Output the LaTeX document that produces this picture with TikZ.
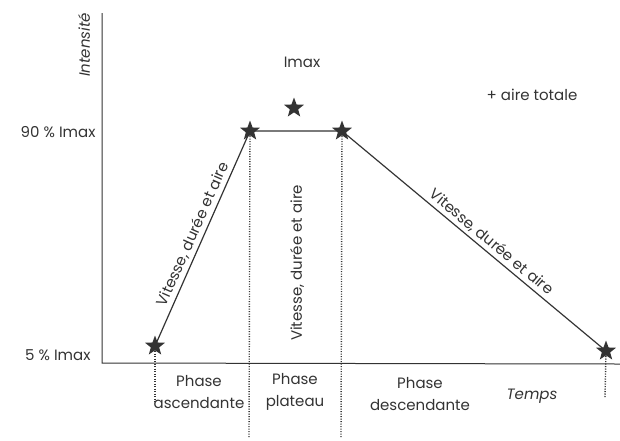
\documentclass[tikz,border=0pt]{standalone}
\usepackage{fontspec}
\setmainfont{Poppins}
\usepackage{tikz}
\usetikzlibrary{shapes.geometric}

\definecolor{trait}{HTML}{333333}

\tikzset{
	etoile/.style={star,star points=5,star point ratio=2.4,fill=trait,draw=none,inner sep=0pt,minimum size=21pt},
	repere/.style={draw=trait,line width=1.4pt,dash pattern=on 1.2pt off 1.3pt},
	texte/.style={text=trait,font=\fontsize{15}{22}\selectfont,align=center}
}

\begin{document}
\begin{tikzpicture}[x=1pt,y=-1pt]
	\useasboundingbox (0,0) rectangle (620,440);
	
	% axes
	\coordinate (haut) at (102,13);
	\coordinate (origine) at (102,363);
	\coordinate (droite) at (620,364);
	\draw[trait,line width=1pt] (haut) -- (origine) -- (droite);
	\node[texte,rotate=90,font=\fontsize{15}{22}\selectfont\itshape] (intensite) at (84,45) {Intensité};
	\node[texte,left] (neuf) at (99,132) {90 \% Imax};
	\node[texte,left] (cinq) at (94,355) {5 \% Imax};
	\node[texte,font=\fontsize{15}{22}\selectfont\itshape] (temps) at (532,396) {Temps};
	
	% points
	\node[etoile] (s1) at (155,346) {};
	\node[etoile] (s2) at (250,131) {};
	\node[etoile] (s3) at (342,131) {};
	\node[etoile] (s4) at (606,351) {};
	\node[etoile] (smax) at (294,108) {};
	\node[texte] (imax) at (302,62) {Imax};
	\node[texte] (aire) at (532,95) {+ aire totale};
	
	\draw[trait,line width=1.2pt] (s1.center) -- (s2.center) -- (s3.center) -- (s4.center);
	\path (s1.center) -- (s2.center) node[texte,midway,sloped,above] (l1) {Vitesse, durée et aire};
	\path (s3.center) -- (s4.center) node[texte,midway,sloped,above,xshift=14pt] (l3) {Vitesse, durée et aire};
	\node[texte,rotate=90] (l2) at (297,263) {Vitesse, durée et aire};
	
	% phases
	\coordinate (b1) at (155,402);
	\coordinate (b2) at (249,437);
	\coordinate (b3) at (341,437);
	\coordinate (b4) at (605,398);
	\draw[repere] (s1.center) -- (b1);
	\draw[repere] (s2.center) -- (b2);
	\draw[repere] (s3.center) -- (b3);
	\draw[repere] (s4.center) -- (b4);
	\node[texte] (asc) at (199,392) {Phase\\ascendante};
	\node[texte] (plat) at (295,392) {Phase\\plateau};
	\node[texte] (desc) at (420,394) {Phase\\descendante};
\end{tikzpicture}
\end{document}
